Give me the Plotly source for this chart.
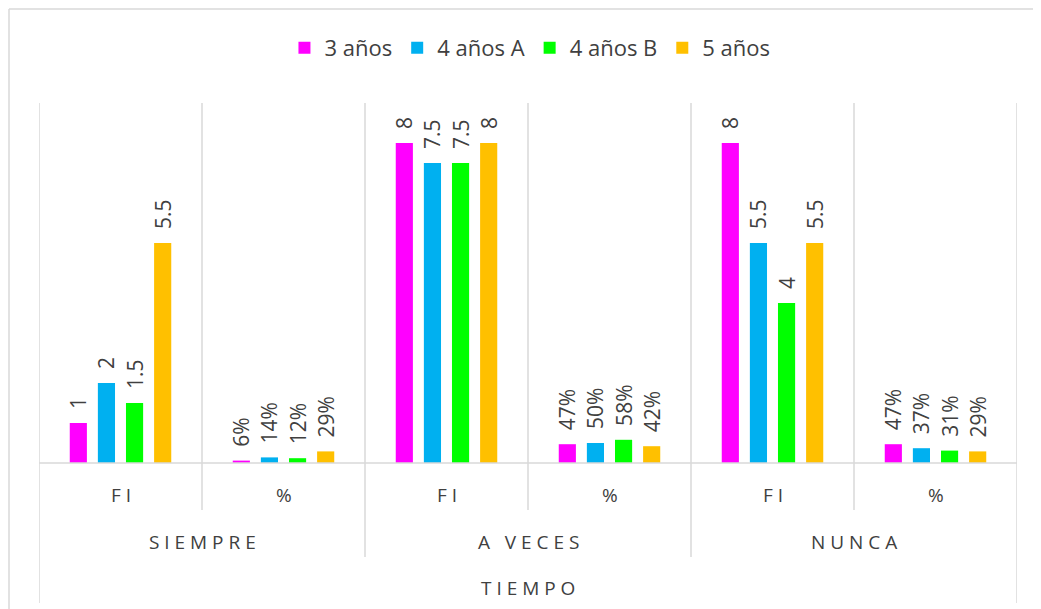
import plotly.graph_objects as go

# ---------------- data ----------------
groups = ["SIEMPRE", "A VECES", "NUNCA"]
subcats = ["FI", "%"]
categories = ["SIEMPRE FI", "SIEMPRE %", "A VECES FI", "A VECES %", "NUNCA FI", "NUNCA %"]
is_percent = [False, True, False, True, False, True]

series_names = ["3 años", "4 años A", "4 años B", "5 años"]
s_3anos = [1, 0.06, 8, 0.47, 8, 0.47]
s_4anosA = [2, 0.14, 7.5, 0.50, 5.5, 0.37]
s_4anosB = [1.5, 0.12, 7.5, 0.58, 4, 0.31]
s_5anos = [5.5, 0.29, 8, 0.42, 5.5, 0.29]
series_values = [s_3anos, s_4anosA, s_4anosB, s_5anos]
axis_title = "TIEMPO"

colors = ["#FF00FF", "#00B0F0", "#00FF00", "#FFC000"]

# ---------------- layout geometry (page pixels) ----------------
OFF = 8  # browser body margin
W, H = 1041, 609
FW, FH = W - OFF, H - OFF
PL, PR, PT, PB = 39, 1017, 103, 463
FONT = "Open Sans"
TXT = "#404040"
GRID = "#D9D9D9"


def py2paper(py):
    return (PB - py) / (PB - PT)


def px2paper(px):
    return (px - PL) / (PR - PL)


def spaced(s):
    return " ".join(list(s))


def fmt(v, pct):
    if pct:
        return f"{round(v * 100)}%"
    return f"{v:g}"


fig = go.Figure()
for name, vals, col in zip(series_names, series_values, colors):
    fig.add_trace(go.Bar(
        name=name,
        x=categories,
        y=vals,
        marker=dict(color=col, line=dict(width=0)),
        text=["\u00a0\u00a0" + fmt(v, p) for v, p in zip(vals, is_percent)],
        textposition="outside",
        textangle=-90,
        constraintext="none",
        cliponaxis=False,
        textfont=dict(family=FONT, size=21, color=TXT),
        hoverinfo="skip",
    ))

shapes = []
# outer chart border (top and left visible)
shapes.append(dict(type="line", xref="paper", yref="paper",
                   x0=px2paper(9), x1=px2paper(W + 5), y0=py2paper(9), y1=py2paper(9),
                   line=dict(color=GRID, width=1.5)))
shapes.append(dict(type="line", xref="paper", yref="paper",
                   x0=px2paper(9), x1=px2paper(9), y0=py2paper(9), y1=py2paper(H + 5),
                   line=dict(color=GRID, width=1.5)))
# baseline
shapes.append(dict(type="line", xref="paper", yref="paper",
                   x0=0, x1=1, y0=0, y1=0, line=dict(color=GRID, width=1.5)))
# vertical separators
n = len(categories)
for i in range(n + 1):
    xb = i - 0.5
    if i == 0 or i == n:
        bottom = 603
    elif i % 2 == 0:
        bottom = 557
    else:
        bottom = 510
    shapes.append(dict(type="line", xref="x", yref="paper",
                       x0=xb, x1=xb, y0=1, y1=py2paper(bottom),
                       line=dict(color=GRID, width=1.5)))

annotations = []
for i, c in enumerate(categories):
    annotations.append(dict(x=i, y=py2paper(495), xref="x", yref="paper",
                            text=spaced(subcats[i % 2]), showarrow=False,
                            font=dict(family=FONT, size=19, color=TXT),
                            xanchor="center", yanchor="middle"))
for g_i, g in enumerate(groups):
    annotations.append(dict(x=2 * g_i + 0.5, y=py2paper(542), xref="x", yref="paper",
                            text=" ".join(g), showarrow=False,
                            font=dict(family=FONT, size=19, color=TXT),
                            xanchor="center", yanchor="middle"))
annotations.append(dict(x=(n - 1) / 2, y=py2paper(588), xref="x", yref="paper",
                        text=spaced(axis_title), showarrow=False,
                        font=dict(family=FONT, size=19, color=TXT),
                        xanchor="center", yanchor="middle"))

fig.update_layout(
    width=FW, height=FH,
    margin=dict(l=PL - OFF, r=FW - (PR - OFF), t=PT - OFF, b=FH - (PB - OFF), pad=0),
    paper_bgcolor="white", plot_bgcolor="white",
    barmode="group", bargap=0.31, bargroupgap=0.39,
    showlegend=True,
    legend=dict(orientation="h", x=0.502, xanchor="center",
                y=1 - (48 - OFF) / FH, yref="container", yanchor="middle",
                font=dict(family=FONT, size=22, color=TXT),
                itemwidth=30, tracegroupgap=0, bgcolor="rgba(0,0,0,0)"),
    xaxis=dict(showticklabels=False, showgrid=False, zeroline=False,
               showline=False, ticks="", range=[-0.5, n - 0.5],
               fixedrange=True),
    yaxis=dict(range=[0, 9], showticklabels=False, showgrid=False,
               zeroline=False, showline=False, ticks="", fixedrange=True),
    shapes=shapes,
    annotations=annotations,
    font=dict(family=FONT, color=TXT),
)

fig.write_html("out.html")
